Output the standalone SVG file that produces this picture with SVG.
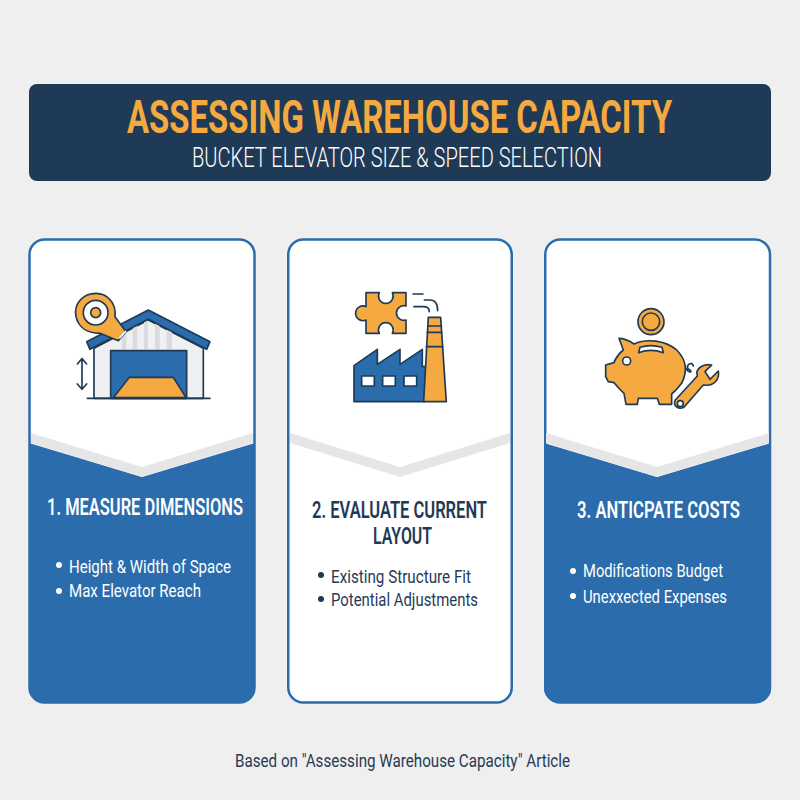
<svg xmlns="http://www.w3.org/2000/svg" width="800" height="800" viewBox="0 0 800 800">
<style>
text{font-family:Roboto,"Liberation Sans",sans-serif}
.ic{stroke:#1f3a56;stroke-width:5;stroke-linejoin:round;stroke-linecap:round}
.o{fill:#f4a941}.b{fill:#2b6cac}.w{fill:#fff}.n{fill:none}
.band{fill:#e6e6e6}
.card{stroke:#2b6cac;stroke-width:2.5}
.h{font-size:23px;font-weight:600;text-anchor:start}
.t{font-size:19px;font-weight:400}
.lw{fill:#fff}.ld{fill:#1f3a56}
</style>
<rect width="800" height="800" fill="#efefef"/>
<g id="header">
<rect x="29" y="84" width="742" height="97" rx="8" fill="#1f3a56"/>
<text transform="translate(127 133) scale(.72 1)" font-size="47" font-weight="700" fill="#f4a941" textLength="757" lengthAdjust="spacingAndGlyphs">ASSESSING WAREHOUSE CAPACITY</text>
<text x="192" y="167" font-size="28" font-weight="300" fill="#fff" textLength="410" lengthAdjust="spacingAndGlyphs">BUCKET ELEVATOR SIZE &amp; SPEED SELECTION</text>
</g>
<g id="card1">
<rect class="card" x="29.5" y="239.5" width="225" height="463" rx="15" fill="#fff"/>
<path class="b" d="M29,443 L142,477 L255,443 V688 A15,15 0 0 1 240,703 H44 A15,15 0 0 1 29,688 Z"/>
<path class="band" d="M31,433 L142,467 L253,433 V443 L142,477 L31,443 Z"/>
<g transform="translate(20 270) scale(.3333)">
<polygon class="ic" points="222,385 222,235 385,150 550,235 550,385" fill="#eef0f2"/>
<g fill="#d9dbde"><rect x="305" y="170" width="14" height="68"/><rect x="338" y="158" width="14" height="80"/><rect x="372" y="152" width="12" height="86"/><rect x="405" y="160" width="14" height="78"/><rect x="440" y="178" width="16" height="60"/></g>
<rect class="ic b" x="272" y="242" width="228" height="143"/>
<polygon class="ic o" points="280,383 328,322 460,322 498,383"/>
<path class="ic n" d="M202,385 H570"/>
<polygon class="ic b" points="200,215 385,120 570,215 560,238 385,148 210,238"/>
<path class="ic n" d="M186,266 V358 M172,282 L186,266 L200,282 M172,342 L186,358 L200,342"/>
<path class="ic o" d="M168,140 C160,100 190,70 228,70 C262,70 290,100 285,140 L318,185 L295,212 L240,190 C205,190 176,175 168,140 Z"/>
<path d="M298,205 L318,183" stroke="#fff" stroke-width="5" fill="none"/>
<circle class="ic w" cx="227" cy="128" r="37"/>
<circle class="ic o" cx="227" cy="128" r="15"/>
</g>
<text class="h lw" x="47" y="515" textLength="196" lengthAdjust="spacingAndGlyphs">1. MEASURE DIMENSIONS</text>
<circle class="lw" cx="59" cy="565" r="3"/>
<text class="t lw" x="69" y="573" textLength="162" lengthAdjust="spacingAndGlyphs">Height &amp; Width of Space</text>
<circle class="lw" cx="59" cy="591" r="3"/>
<text class="t lw" x="69" y="597" textLength="132" lengthAdjust="spacingAndGlyphs">Max Elevator Reach</text>
</g>
<g id="card2">
<rect class="card" x="288.25" y="239.5" width="223.5" height="463" rx="15" fill="#fff"/>
<path class="band" d="M290,433 L400,467 L510,433 V443 L400,477 L290,443 Z"/>
<g transform="translate(285 270) scale(.3333)">
<path class="ic o" d="M243,68 H283 A22,22 0 1 0 322,68 H363 V108 A22,22 0 1 0 363,150 V190 H322 A22,22 0 1 0 283,190 H243 V150 A22,22 0 1 1 243,110 Z"/>
<path class="ic n" d="M384,72 H414 M418,90 H435 Q458,90 458,122 M387,110 H415 Q433,110 433,125" stroke-width="4"/>
<path class="ic b" d="M207,395 V287 L277,238 V283 L345,238 V283 L412,238 V290 L425,290 L418,395 Z"/>
<polygon class="ic o" points="430,142 467,142 484,395 416,395"/>
<path class="ic n" d="M428,168 H469 M427,187 H470 M424,230 H473"/>
<rect class="ic w" x="230" y="318" width="38" height="30"/>
<rect class="ic w" x="293" y="318" width="38" height="30"/>
<rect class="ic w" x="357" y="318" width="38" height="30"/>
</g>
<text class="h ld" x="312" y="518" textLength="175" lengthAdjust="spacingAndGlyphs">2. EVALUATE CURRENT</text>
<text class="h ld" x="373" y="544" textLength="59" lengthAdjust="spacingAndGlyphs">LAYOUT</text>
<circle class="ld" cx="321" cy="575" r="3"/>
<text class="t ld" x="331" y="583" textLength="140" lengthAdjust="spacingAndGlyphs">Existing Structure Fit</text>
<circle class="ld" cx="321" cy="599" r="3"/>
<text class="t ld" x="331" y="606" textLength="147" lengthAdjust="spacingAndGlyphs">Potential Adjustments</text>
</g>
<g id="card3">
<rect class="card" x="545.25" y="239.5" width="224.75" height="463" rx="15" fill="#fff"/>
<path class="b" d="M544,443 L657,477 L771,443 V688 A15,15 0 0 1 756,703 H559 A15,15 0 0 1 544,688 Z"/>
<path class="band" d="M546,433 L657,467 L769,433 V443 L657,477 L546,443 Z"/>
<g transform="translate(540 270) scale(.3333)">
<circle class="ic o" cx="333" cy="155" r="39"/>
<circle class="ic n" cx="333" cy="155" r="26"/>
<path class="ic o" d="M197,285 L222,278 C228,262 240,248 250,240 L237,205 C255,205 272,215 282,222 C320,205 375,210 410,240 C435,265 445,300 425,340 C410,360 395,372 395,372 L395,403 L358,403 L352,385 L295,385 L292,403 L258,403 L252,370 C240,360 232,350 222,338 L205,335 L197,320 Z"/>
<path class="ic w" d="M296,248 Q332,234 370,248 L366,232 Q332,222 300,232 Z" stroke-width="4"/>
<circle class="ic w" cx="260" cy="273" r="12"/>
<path class="ic n" d="M438,296 C448,312 462,306 444,296 C438,285 456,272 460,288" stroke-width="4"/>
<path class="ic o" d="M406,390 L472,318 C465,295 490,280 515,285 L495,305 L510,328 L535,303 C540,330 520,350 490,345 L432,412 C415,420 398,408 406,390 Z"/>
<circle class="ic w" cx="421" cy="401" r="9"/>
</g>
<text class="h lw" transform="translate(577 518) scale(.75 1)" textLength="217.3" lengthAdjust="spacingAndGlyphs">3. ANTICPATE COSTS</text>
<circle class="lw" cx="573" cy="571" r="3"/>
<text class="t lw" x="583" y="577" textLength="140" lengthAdjust="spacingAndGlyphs">Modifications Budget</text>
<circle class="lw" cx="573" cy="596" r="3"/>
<text class="t lw" x="583" y="603" textLength="144" lengthAdjust="spacingAndGlyphs">Unexxected Expenses</text>
</g>
<text id="footer" class="t ld" x="235" y="767" textLength="335" lengthAdjust="spacingAndGlyphs">Based on "Assessing Warehouse Capacity" Article</text>
</svg>
